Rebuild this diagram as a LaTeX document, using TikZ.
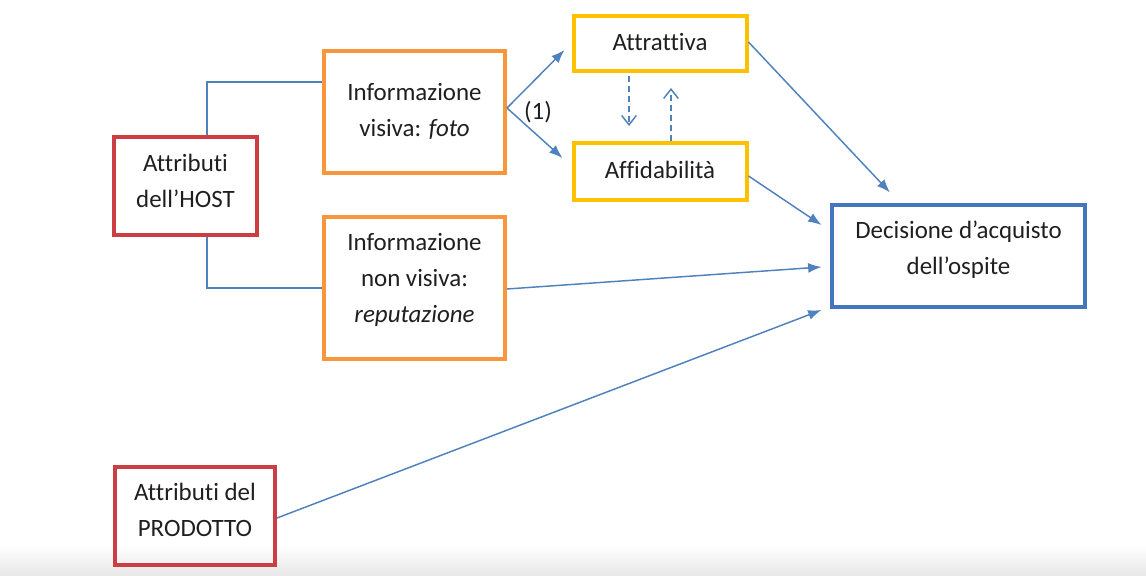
\documentclass[tikz,border=0pt]{standalone}
\usepackage{fontspec}
\setmainfont{Carlito}[Ligatures={NoCommon,NoRequired,NoContextual}]
\usetikzlibrary{arrows.meta,calc}
\definecolor{hostred}{RGB}{204,62,66}
\definecolor{infoorange}{RGB}{247,150,60}
\definecolor{evalyellow}{RGB}{255,192,0}
\definecolor{linkblue}{RGB}{79,129,189}
\definecolor{decblue}{RGB}{68,118,190}
\tikzset{
  box/.style={draw, rectangle, line width=3pt, inner sep=0pt},
  link/.style={draw=linkblue, line width=1.1pt},
  arr/.style={link, -{Latex[length=10pt,width=7.5pt]}},
  dasharr/.style={link, dash pattern=on 4.5pt off 3pt, -{Straight Barb[length=7pt,width=11pt]}},
  txt/.style={font=\fontsize{18.7}{27}\selectfont, align=center, text=black!88},
}
\begin{document}
\begin{tikzpicture}[x=0.75pt, y=-0.75pt]
  \useasboundingbox (0,0) rectangle (1146,575);
  \shade[top color=white, bottom color=black!9] (0,545) rectangle (1146,575);

  % boxes
  \node[box, draw=hostred, minimum width=107.25pt, minimum height=73.5pt] (host) at (185.5,186) {};
  \node[box, draw=infoorange, minimum width=135.75pt, minimum height=91.5pt] (vis) at (414.5,112) {};
  \node[box, draw=infoorange, minimum width=135.75pt, minimum height=106.5pt] (nonvis) at (414.5,288) {};
  \node[box, draw=evalyellow, minimum width=129.75pt, minimum height=41.25pt] (attr) at (660,43.5) {};
  \node[box, draw=evalyellow, minimum width=129.75pt, minimum height=42.75pt] (affid) at (660,171.5) {};
  \node[box, draw=decblue, minimum width=189.75pt, minimum height=76.5pt] (dec) at (958.5,256) {};
  \node[box, draw=hostred, minimum width=120pt, minimum height=73.5pt] (prod) at (195,516) {};

  % labels
  \node[txt] (hostlbl) at (185.5,181) {Attributi\\dell’HOST};
  \node[txt] (vislbl) at (414.5,111) {Informazione\\visiva: \textit{foto}};
  \node[txt] (nonvislbl) at (414.5,280) {Informazione\\non visiva:\\\textit{reputazione}};
  \node[txt] (attrlbl) at (660,42) {Attrattiva};
  \node[txt] (affidlbl) at (660,170) {Affidabilità};
  \node[txt] (declbl) at (958.5,250) {Decisione d’acquisto\\dell’ospite};
  \node[txt] (prodlbl) at (195,510) {Attributi del\\PRODOTTO};
  \node[txt] (one) at (538,112) {(1)};

  % host links
  \draw[link] ($(host.north)+(21.5,0)$) |- ($(vis.west)+(0,-30)$);
  \draw[link] ($(host.south)+(21.5,0)$) |- (nonvis.west);

  % visual information fork
  \draw[arr] ($(vis.east)+(0,-4)$) -- ($(attr.west)+(-7,6.5)$);
  \draw[arr] ($(vis.east)+(0,-4)$) -- ($(affid.west)+(-9,-13.5)$);

  % mutual influence
  \draw[dasharr] ($(attr.south)+(-31,3)$) -- ($(affid.north)+(-31,-15)$);
  \draw[dasharr] ($(affid.north)+(11,0)$) -- ($(attr.south)+(11,15)$);

  % into the decision
  \draw[arr] ($(attr.east)+(0,-1.5)$) -- ($(dec.north)+(-68.5,-10.5)$);
  \draw[arr] ($(affid.east)+(0,4.5)$) -- ($(dec.west)+(-8.5,-31)$);
  \draw[arr] ($(nonvis.east)+(0,1)$) -- ($(dec.west)+(-8.5,11)$);
  \draw[arr] ($(prod.east)+(0,2)$) -- ($(dec.west)+(-8.5,54)$);
\end{tikzpicture}
\end{document}
